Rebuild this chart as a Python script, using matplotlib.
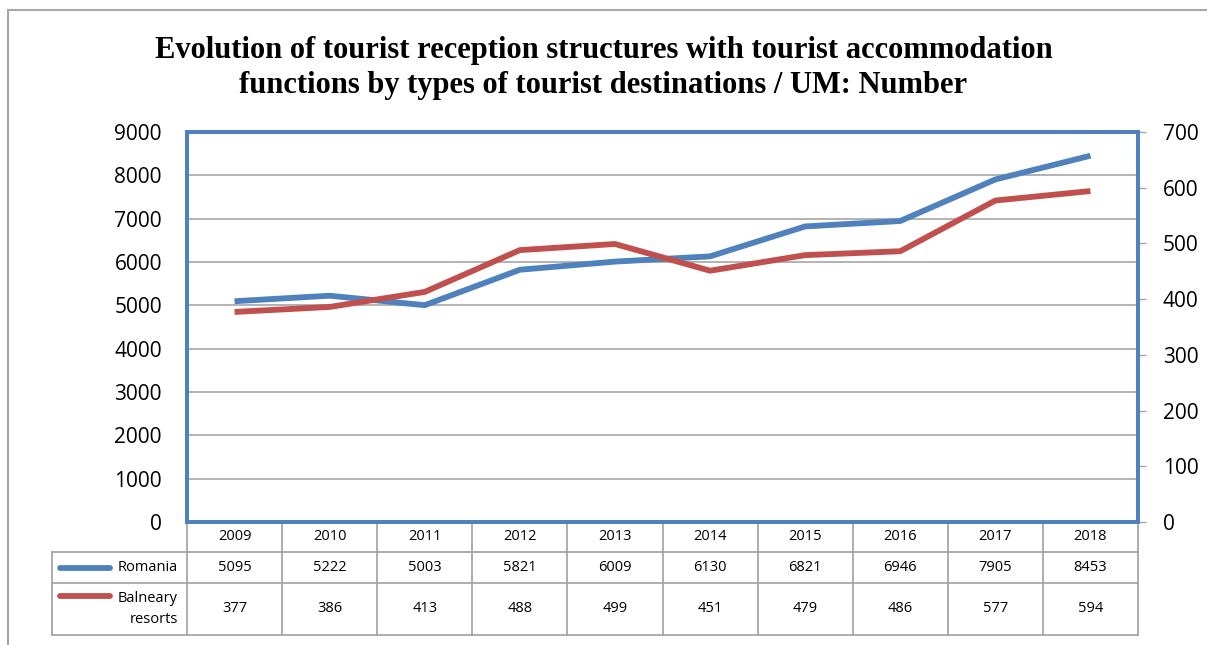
import matplotlib.pyplot as plt
from matplotlib.lines import Line2D

years = ["2009", "2010", "2011", "2012", "2013", "2014", "2015", "2016", "2017", "2018"]
romania = [5095, 5222, 5003, 5821, 6009, 6130, 6821, 6946, 7905, 8453]
balneary = [377, 386, 413, 488, 499, 451, 479, 486, 577, 594]

blue = "#4F81BD"
red = "#C0504D"
grid_gray = "#A6A6A6"
W, H = 1207, 645

fig = plt.figure(figsize=(W / 100, H / 100), dpi=100)
# plot area in pixels: x 187..1138, y 132..522
ax = fig.add_axes([187 / W, 1 - 522 / H, (1138 - 187) / W, (522 - 132) / H])
ax2 = ax.twinx()

x = list(range(len(years)))
ax.plot(x, romania, color=blue, lw=4.2, solid_capstyle="butt", zorder=3)
ax2.plot(x, balneary, color=red, lw=4.2, solid_capstyle="butt", zorder=3)

ax.set_xlim(-0.5, len(years) - 0.5)
ax.set_ylim(0, 9000)
ax.set_yticks(range(0, 9001, 1000))
ax2.set_ylim(0, 700)
ax2.set_yticks(range(0, 701, 100))
ax.set_xticks([])
ax.grid(axis="y", color=grid_gray, lw=1.2)
ax.set_axisbelow(True)
ax2.set_zorder(ax.get_zorder() + 1)
ax2.patch.set_visible(False)

for a in (ax, ax2):
    for s in a.spines.values():
        s.set_color(blue)
        s.set_linewidth(2.8)
    a.tick_params(axis="y", length=6, width=1, color=grid_gray, labelsize=15)
    for lbl in a.get_yticklabels():
        lbl.set_fontfamily("Open Sans")
ax.tick_params(axis="y", length=0, pad=18)
ax2.tick_params(axis="y", pad=12)

# data table below plot
def ay(py):
    return (522 - py) / (522 - 132)

def ax_(px):
    return (px - 187) / (1138 - 187)

tr = ax.transAxes
tl = dict(color="#A0A0A0", lw=1.2, transform=tr, clip_on=False)
row_y = [ay(522), ay(552), ay(583), ay(635)]
for yy in row_y[1:]:
    ax.add_line(Line2D([ax_(52), 1], [yy, yy], **tl))
ax.add_line(Line2D([0, 1], [row_y[0], row_y[0]], **tl))
n = len(years)
for i in range(n + 1):
    ax.add_line(Line2D([i / n, i / n], [row_y[0], row_y[3]], **tl))
ax.add_line(Line2D([ax_(52), ax_(52)], [row_y[1], row_y[3]], **tl))

cell_font = dict(family="Open Sans", size=10.5, ha="center", va="center", transform=tr)
for i in range(n):
    cx = (i + 0.5) / n
    ax.text(cx, (row_y[0] + row_y[1]) / 2, years[i], **cell_font)
    ax.text(cx, (row_y[1] + row_y[2]) / 2, str(romania[i]), **cell_font)
    ax.text(cx, (row_y[2] + row_y[3]) / 2, str(balneary[i]), **cell_font)

# legend keys in row headers
for yy, col in [((row_y[1] + row_y[2]) / 2, blue), (ay(596), red)]:
    ax.add_line(Line2D([ax_(60), ax_(110)], [yy, yy], color=col, lw=4.2,
                       solid_capstyle="round", transform=tr, clip_on=False))
ax.text(ax_(178), (row_y[1] + row_y[2]) / 2, "Romania", family="Open Sans", size=10.5,
        ha="right", va="center", transform=tr)
ax.text(ax_(178), (row_y[2] + row_y[3]) / 2, "Balneary\nresorts", family="Open Sans",
        size=10.5, ha="right", va="center", linespacing=1.5, transform=tr)

fig.text(0.5, 1 - 68 / H,
         "Evolution of tourist reception structures with tourist accommodation\n"
         "functions by types of tourist destinations / UM: Number",
         ha="center", va="center", family="Liberation Serif", weight="bold",
         size=22, linespacing=1.3)

# outer chart border
fig.add_artist(Line2D([8 / W, 1], [1 - 10 / H, 1 - 10 / H], color="#A6A6A6", lw=1.5,
                      transform=fig.transFigure))
fig.add_artist(Line2D([8 / W, 8 / W], [0, 1 - 10 / H], color="#A6A6A6", lw=1.5,
                      transform=fig.transFigure))

fig.savefig("out.png", dpi=100)
